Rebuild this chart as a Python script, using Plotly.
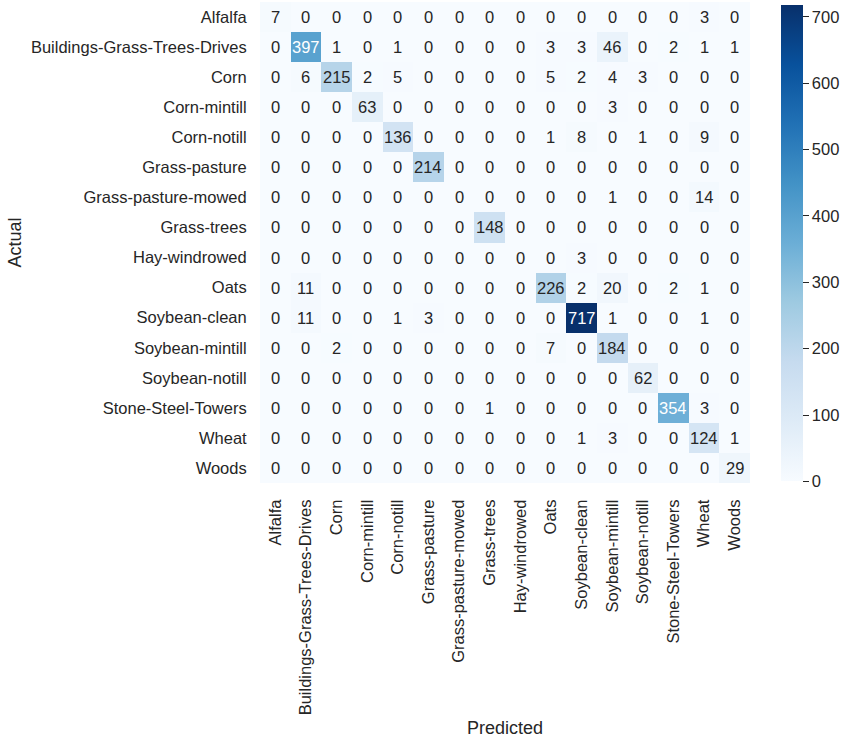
import plotly.graph_objects as go

CLASSES = ['Alfalfa', 'Buildings-Grass-Trees-Drives', 'Corn', 'Corn-mintill',
           'Corn-notill', 'Grass-pasture', 'Grass-pasture-mowed', 'Grass-trees',
           'Hay-windrowed', 'Oats', 'Soybean-clean', 'Soybean-mintill',
           'Soybean-notill', 'Stone-Steel-Towers', 'Wheat', 'Woods']

# rows = actual, cols = predicted
row_alfalfa   = [7, 0, 0, 0, 0, 0, 0, 0, 0, 0, 0, 0, 0, 0, 3, 0]
row_buildings = [0, 397, 1, 0, 1, 0, 0, 0, 0, 3, 3, 46, 0, 2, 1, 1]
row_corn      = [0, 6, 215, 2, 5, 0, 0, 0, 0, 5, 2, 4, 3, 0, 0, 0]
row_cmintill  = [0, 0, 0, 63, 0, 0, 0, 0, 0, 0, 0, 3, 0, 0, 0, 0]
row_cnotill   = [0, 0, 0, 0, 136, 0, 0, 0, 0, 1, 8, 0, 1, 0, 9, 0]
row_gpasture  = [0, 0, 0, 0, 0, 214, 0, 0, 0, 0, 0, 0, 0, 0, 0, 0]
row_gmowed    = [0, 0, 0, 0, 0, 0, 0, 0, 0, 0, 0, 1, 0, 0, 14, 0]
row_gtrees    = [0, 0, 0, 0, 0, 0, 0, 148, 0, 0, 0, 0, 0, 0, 0, 0]
row_hay       = [0, 0, 0, 0, 0, 0, 0, 0, 0, 0, 3, 0, 0, 0, 0, 0]
row_oats      = [0, 11, 0, 0, 0, 0, 0, 0, 0, 226, 2, 20, 0, 2, 1, 0]
row_sclean    = [0, 11, 0, 0, 1, 3, 0, 0, 0, 0, 717, 1, 0, 0, 1, 0]
row_smintill  = [0, 0, 2, 0, 0, 0, 0, 0, 0, 7, 0, 184, 0, 0, 0, 0]
row_snotill   = [0, 0, 0, 0, 0, 0, 0, 0, 0, 0, 0, 0, 62, 0, 0, 0]
row_stone     = [0, 0, 0, 0, 0, 0, 0, 1, 0, 0, 0, 0, 0, 354, 3, 0]
row_wheat     = [0, 0, 0, 0, 0, 0, 0, 0, 0, 0, 1, 3, 0, 0, 124, 1]
row_woods     = [0, 0, 0, 0, 0, 0, 0, 0, 0, 0, 0, 0, 0, 0, 0, 29]

cm = [row_alfalfa, row_buildings, row_corn, row_cmintill, row_cnotill,
      row_gpasture, row_gmowed, row_gtrees, row_hay, row_oats, row_sclean,
      row_smintill, row_snotill, row_stone, row_wheat, row_woods]

CBAR_TICKS = [0, 100, 200, 300, 400, 500, 600, 700]

# matplotlib "Blues"
BLUES = ['#f7fbff', '#deebf7', '#c6dbef', '#9ecae1', '#6baed6',
         '#4292c6', '#2171b5', '#08519c', '#08306b']
colorscale = [[i / (len(BLUES) - 1), c] for i, c in enumerate(BLUES)]

TXT = '#262626'
FONT = 'Liberation Sans, Arial, sans-serif'
FS = 16.5

vmax = max(max(r) for r in cm)


def hex2rgb(h):
    return [int(h[i:i + 2], 16) / 255 for i in (1, 3, 5)]


def cell_color(v):
    t = v / vmax * (len(BLUES) - 1)
    i = min(int(t), len(BLUES) - 2)
    f = t - i
    a, b = hex2rgb(BLUES[i]), hex2rgb(BLUES[i + 1])
    return [a[k] + (b[k] - a[k]) * f for k in range(3)]


def luminance(rgb):
    lin = [c / 12.92 if c <= 0.03928 else ((c + 0.055) / 1.055) ** 2.4 for c in rgb]
    return 0.2126 * lin[0] + 0.7152 * lin[1] + 0.0722 * lin[2]


fig = go.Figure(go.Heatmap(
    z=cm, x=CLASSES, y=CLASSES,
    zmin=0, zmax=vmax,
    colorscale=colorscale,
    hoverongaps=False,
    colorbar=dict(
        x=1.063, xanchor='left', xpad=0, ypad=0,
        y=0.498, yanchor='middle', len=0.99,
        thickness=22, outlinewidth=0,
        tickvals=CBAR_TICKS, ticks='outside', ticklen=6, tickwidth=1,
        tickcolor=TXT, tickfont=dict(size=FS, color=TXT, family=FONT),
    ),
))

annotations = []
for i, row in enumerate(cm):
    for j, v in enumerate(row):
        col = 'white' if luminance(cell_color(v)) <= 0.408 else TXT
        annotations.append(dict(x=CLASSES[j], y=CLASSES[i], text=str(v),
                                showarrow=False,
                                font=dict(size=FS, color=col, family=FONT)))

annotations.append(dict(x=0.5, y=-0.509, xref='paper', yref='paper',
                        xanchor='center', yanchor='middle',
                        text='Predicted', showarrow=False,
                        font=dict(size=18, color=TXT, family=FONT)))
annotations.append(dict(x=-0.502, y=0.5, xref='paper', yref='paper',
                        xanchor='center', yanchor='middle',
                        text='Actual', textangle=-90, showarrow=False,
                        font=dict(size=18, color=TXT, family=FONT)))

fig.update_layout(
    width=849, height=745,
    margin=dict(l=260, r=99, t=2, b=262, autoexpand=False),
    paper_bgcolor='white', plot_bgcolor='white',
    font=dict(family=FONT, color=TXT, size=FS),
    annotations=annotations,
)
fig.update_xaxes(tickangle=-90, showgrid=False, zeroline=False, automargin=False,
                 ticks='outside', ticklen=9, tickcolor='rgba(0,0,0,0)',
                 tickfont=dict(size=FS, color=TXT))
fig.update_yaxes(autorange='reversed', showgrid=False, zeroline=False, automargin=False,
                 ticks='outside', ticklen=9, tickcolor='rgba(0,0,0,0)',
                 tickfont=dict(size=FS, color=TXT))

# drop the page's default body margin so the figure fills the window
fig.write_html("out.html", config={'displayModeBar': False},
               post_script="document.body.style.margin='0';")
